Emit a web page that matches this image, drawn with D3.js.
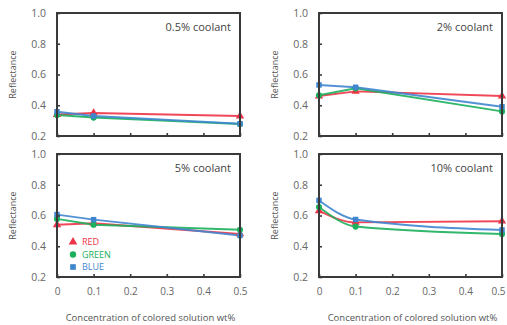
<!DOCTYPE html>
<html><head><meta charset="utf-8">
<script src="https://cdn.jsdelivr.net/npm/d3@7"></script>
<style>body{margin:0;background:#fff}svg{display:block}</style>
</head><body>
<svg id="c" width="507" height="325"></svg>
<script>
const xValues = [0, 0.1, 0.5];
const xTicks = [0, 0.1, 0.2, 0.3, 0.4, 0.5];
const yTicks = [0.2, 0.4, 0.6, 0.8, 1.0];
const panelTitles = ["0.5% coolant", "2% coolant", "5% coolant", "10% coolant"];
const seriesNames = ["RED", "GREEN", "BLUE"];
const redValues   = [[0.34, 0.35, 0.33], [0.46, 0.49, 0.46], [0.54, 0.55, 0.48], [0.63, 0.555, 0.563]];
const greenValues = [[0.337, 0.32, 0.278], [0.465, 0.51, 0.36], [0.578, 0.54, 0.507], [0.655, 0.528, 0.48]];
const blueValues  = [[0.358, 0.33, 0.28], [0.532, 0.517, 0.39], [0.606, 0.573, 0.47], [0.698, 0.574, 0.506]];

const colors = {RED: "#ee3347", GREEN: "#1bb05c", BLUE: "#3f86cf"};
const symbols = {RED: d3.symbolTriangle, GREEN: d3.symbolCircle, BLUE: d3.symbolSquare};
const allValues = {RED: redValues, GREEN: greenValues, BLUE: blueValues};

const svg = d3.select("#c");
const font = "'Open Sans', 'DejaVu Sans', sans-serif";
const boxes = [
  {x0: 57, x1: 240, y0: 13, y1: 136},
  {x0: 319, x1: 502, y0: 13, y1: 136},
  {x0: 57, x1: 240, y0: 154, y1: 277},
  {x0: 319, x1: 502, y0: 154, y1: 277}
];

boxes.forEach((b, i) => {
  const x = d3.scaleLinear().domain([0, 0.5]).range([b.x0, b.x1]);
  const y = d3.scaleLinear().domain([0.2, 1.0]).range([b.y1, b.y0]);
  const g = svg.append("g");
  const curve = i === 3 ? d3.curveMonotoneX : d3.curveLinear;

  seriesNames.forEach(s => {
    const vals = allValues[s][i];
    const pts = xValues.map((xv, k) => [xv, vals[k]]);
    g.append("path").attr("d", d3.line().x(d => x(d[0])).y(d => y(d[1])).curve(curve)(pts))
      .attr("fill", "none").attr("stroke", colors[s]).attr("stroke-width", 1.9).attr("opacity", 0.9);
  });
  seriesNames.forEach(s => {
    const vals = allValues[s][i];
    xValues.forEach((xv, k) => {
      g.append("path").attr("d", d3.symbol().type(symbols[s]).size(30)())
        .attr("transform", `translate(${x(xv)},${y(vals[k])})`)
        .attr("fill", colors[s]);
    });
  });

  g.append("rect").attr("x", b.x0).attr("y", b.y0).attr("width", b.x1 - b.x0).attr("height", b.y1 - b.y0)
    .attr("fill", "none").attr("stroke", "#3a3a3a").attr("stroke-width", 2);

  const ya = d3.axisLeft(y).tickValues(yTicks).tickFormat(d3.format(".1f")).tickSize(-3).tickPadding(11);
  const yg = g.append("g").attr("transform", `translate(${b.x0},0)`).call(ya);
  yg.select(".domain").remove();
  yg.selectAll("line").attr("stroke", "#3a3a3a").attr("stroke-width", 1.6);
  yg.selectAll("text").attr("fill", "#666").style("font", `10.5px ${font}`);

  const xa = d3.axisBottom(x).tickValues(xTicks).tickFormat(i >= 2 ? (d => d === 0 ? "0" : d3.format(".1f")(d)) : "").tickSize(-3).tickPadding(11);
  const xg = g.append("g").attr("transform", `translate(0,${b.y1})`).call(xa);
  xg.select(".domain").remove();
  xg.selectAll("line").attr("stroke", "#3a3a3a").attr("stroke-width", 1.6);
  xg.selectAll("text").attr("fill", "#666").style("font", `10px ${font}`);
  if (i === 3) xg.selectAll("text").filter(d => d === 0.5).attr("dx", -4);

  g.append("text").attr("x", b.x1 - 9).attr("y", b.y0 + 18).attr("text-anchor", "end")
    .attr("fill", "#444").style("font", `11px ${font}`).text(panelTitles[i]);

  g.append("text").attr("transform", `translate(${b.x0 - 41},${(b.y0 + b.y1) / 2}) rotate(-90)`)
    .attr("text-anchor", "middle").attr("fill", "#555").style("font", `9px ${font}`).text("Reflectance");

  if (i >= 2) {
    g.append("text").attr("x", (b.x0 + b.x1) / 2 + 2).attr("y", 321).attr("text-anchor", "middle")
      .attr("fill", "#555").style("font", `9.5px ${font}`).text("Concentration of colored solution  wt%");
  }
});

const lg = svg.append("g");
seriesNames.forEach((s, k) => {
  const yy = 242 + k * 12.5;
  lg.append("path").attr("d", d3.symbol().type(symbols[s]).size(32)()).attr("transform", `translate(73,${yy})`).attr("fill", colors[s]);
  lg.append("text").attr("x", 82).attr("y", yy + 3.3).attr("fill", colors[s]).style("font", `9px ${font}`).text(s);
});
</script>
</body></html>
